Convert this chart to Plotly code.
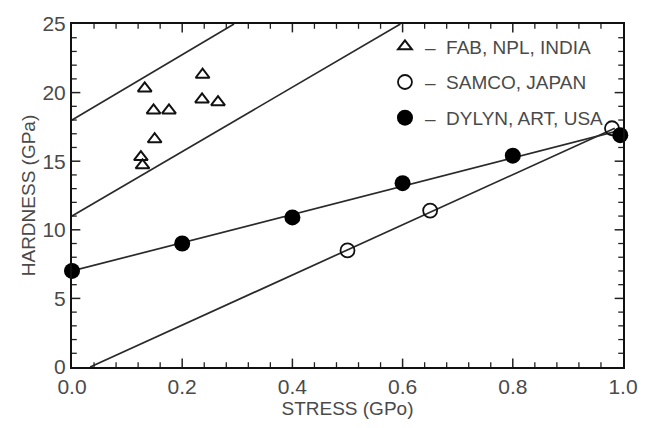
import plotly.graph_objects as go

# Hardness vs stress for DLC films from three sources
fab_stress = [0.132, 0.237, 0.148, 0.176, 0.236, 0.265, 0.150, 0.125, 0.128]
fab_hardness = [20.3, 21.3, 18.7, 18.7, 19.5, 19.3, 16.6, 15.3, 14.7]

samco_stress = [0.50, 0.65, 0.98]
samco_hardness = [8.5, 11.4, 17.4]

dylyn_stress = [0.0, 0.2, 0.4, 0.6, 0.8, 0.995]
dylyn_hardness = [7.0, 9.0, 10.9, 13.4, 15.4, 16.9]

# Fitted / guide lines (end points)
guide_upper_x = [0.0, 0.294]
guide_upper_y = [18.0, 25.0]
guide_lower_x = [0.0, 0.596]
guide_lower_y = [11.0, 25.0]
dylyn_fit_x = [0.0, 1.0]
dylyn_fit_y = [7.0, 17.3]
samco_fit_x = [0.033, 0.985]
samco_fit_y = [0.0, 17.4]

x_ticks = [0.0, 0.2, 0.4, 0.6, 0.8, 1.0]
x_tick_text = ["0.0", "0.2", "0.4", "0.6", "0.8", "1.0"]
y_ticks = [0, 5, 10, 15, 20, 25]
x_minor_step = 0.04
y_minor_step = 1

X_RANGE = (0.0, 1.0)
Y_RANGE = (0.0, 25.0)
W, H = 650, 428
MARGIN = dict(l=72, r=17, t=24, b=60)

line_color = "#2a2a2a"
tick_color = "#222222"
text_color = "#4a4a4a"
font_family = "Liberation Sans, Arial, sans-serif"

fig = go.Figure()

for xs, ys in [(guide_upper_x, guide_upper_y), (guide_lower_x, guide_lower_y),
               (dylyn_fit_x, dylyn_fit_y), (samco_fit_x, samco_fit_y)]:
    fig.add_trace(go.Scatter(x=xs, y=ys, mode="lines", showlegend=False,
                             hoverinfo="skip", cliponaxis=True,
                             line=dict(color=line_color, width=1.7)))

# Inward tick marks on all four sides (short line markers)
px_per_x = (W - MARGIN["l"] - MARGIN["r"]) / (X_RANGE[1] - X_RANGE[0])
px_per_y = (H - MARGIN["t"] - MARGIN["b"]) / (Y_RANGE[1] - Y_RANGE[0])

x_minor = [round(k * x_minor_step, 4) for k in range(1, int(round(1.0 / x_minor_step)))]
x_minor = [v for v in x_minor if all(abs(v - t) > 1e-6 for t in x_ticks)]
y_minor = [k * y_minor_step for k in range(1, 25) if k % 5 != 0]


def add_ticks(values, length, width, vertical_axis):
    if not vertical_axis:
        off = (length / 2) / px_per_y
        xs = values + values
        ys = [Y_RANGE[0] + off] * len(values) + [Y_RANGE[1] - off] * len(values)
        sym = "line-ns-open"
    else:
        off = (length / 2) / px_per_x
        ys = values + values
        xs = [X_RANGE[0] + off] * len(values) + [X_RANGE[1] - off] * len(values)
        sym = "line-ew-open"
    fig.add_trace(go.Scatter(x=xs, y=ys, mode="markers", showlegend=False,
                             hoverinfo="skip", cliponaxis=False,
                             marker=dict(symbol=sym, size=length, color=tick_color,
                                         line=dict(color=tick_color, width=width))))


add_ticks(x_ticks[1:-1], 7, 1.5, False)
add_ticks(x_minor, 4, 1.3, False)
add_ticks(y_ticks[1:-1], 7, 1.5, True)
add_ticks(y_minor, 4, 1.3, True)

fig.add_trace(go.Scatter(
    x=fab_stress, y=fab_hardness, mode="markers", name="–  FAB, NPL, INDIA",
    legendgroup="a",
    marker=dict(symbol="triangle-up-open", size=12, color="#111111",
                line=dict(width=2, color="#111111"))))
fig.add_trace(go.Scatter(
    x=samco_stress, y=samco_hardness, mode="markers", name="–  SAMCO, JAPAN",
    legendgroup="b",
    marker=dict(symbol="circle-open", size=14, color="#111111",
                line=dict(width=1.8, color="#111111"))))
fig.add_trace(go.Scatter(
    x=dylyn_stress, y=dylyn_hardness, mode="markers", name="–  DYLYN, ART, USA",
    legendgroup="c", cliponaxis=False,
    marker=dict(symbol="circle", size=16, color="#000000")))

axis_common = dict(
    showline=True, linecolor="#111111", linewidth=2, mirror=True,
    ticks="", showgrid=False, zeroline=False,
    tickfont=dict(family=font_family, size=21, color=text_color),
)

fig.update_xaxes(
    range=list(X_RANGE), tickmode="array", tickvals=x_ticks, ticktext=x_tick_text,
    title=dict(text="STRESS (GPo)", standoff=4,
               font=dict(family=font_family, size=19, color=text_color)),
    **axis_common)
fig.update_yaxes(
    range=list(Y_RANGE), tickmode="array", tickvals=y_ticks,
    title=dict(text="HARDNESS (GPa)", standoff=2,
               font=dict(family=font_family, size=19, color=text_color)),
    **axis_common)

fig.update_layout(
    width=W, height=H,
    margin=MARGIN,
    paper_bgcolor="white", plot_bgcolor="white",
    legend=dict(x=0.568, y=0.99, xanchor="left", yanchor="top",
                bgcolor="rgba(0,0,0,0)", tracegroupgap=8,
                font=dict(family=font_family, size=19, color=text_color)),
)

fig.write_html("out.html")
